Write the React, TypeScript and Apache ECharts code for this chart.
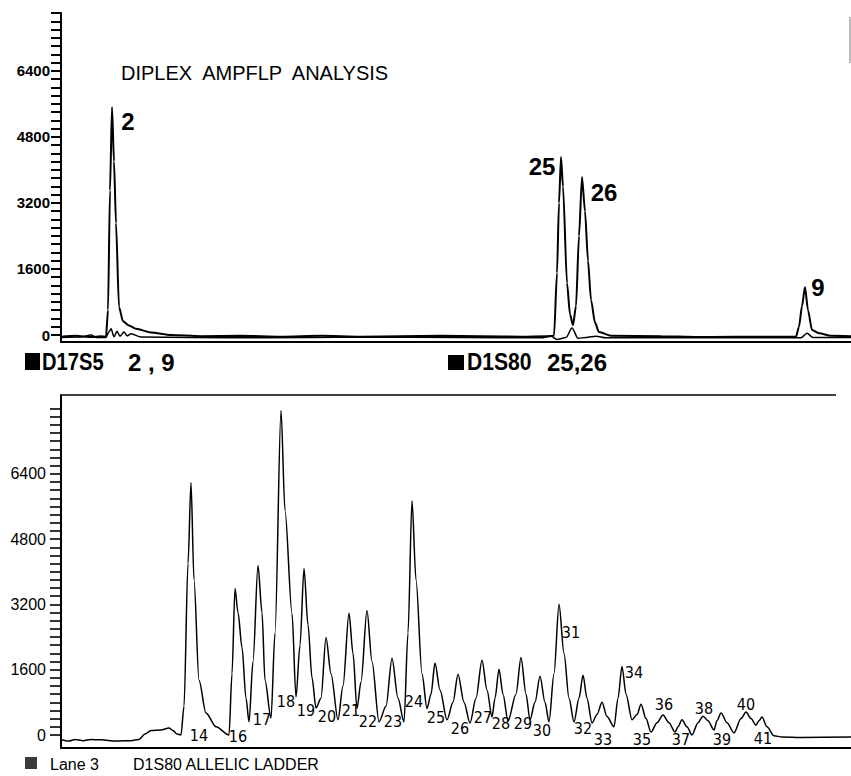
import React, { useEffect, useRef } from "react";
import * as echarts from "echarts";

// ---------- data (x = scan position, y = fluorescence units) ----------
const topTraceMain: [number, number][] = [
  [0, -40], [15, -20], [30, -50], [40, -30], [45, -40], [47, 600], [49, 3500], [51, 5520], [53, 4200], [55, 2710],
  [58, 680], [62, 330], [68, 230], [75, 150], [90, 60], [110, 0], [140, -30], [180, -20], [220, -40], [260, -20],
  [300, -40], [340, -30], [380, -20], [420, -30], [460, -40], [485, -30], [493, -20], [496, 1500], [498, 3200],
  [500, 4310], [502, 3600], [506, 1260], [509, 500], [512, 240], [515, 700], [518, 2400], [521, 3830], [524, 3000],
  [527, 1800], [530, 850], [534, 300], [538, 70], [550, -20], [600, -30], [650, -50], [700, -40], [735, -40],
  [738, 200], [741, 700], [744, 1160], [747, 600], [751, 120], [758, 40], [770, -20], [790, -30],
];

const topTraceSecond: [number, number][] = [
  [0, -60], [20, -50], [30, 0], [35, -60], [45, -60], [48, 80], [50, 150], [53, -40], [56, 90], [59, -30], [63, 70],
  [66, -20], [70, 30], [80, -50], [130, -60], [200, -70], [300, -50], [400, -60], [480, -70], [490, -30], [496, -110],
  [505, -60], [511, 170], [517, -80], [525, -60], [535, -30], [545, -70], [650, -60], [740, -70], [746, 40],
  [752, -60], [790, -60],
];

const topPeakNames = ["2", "25", "26", "9"];
const topPeakLabelX = [67, 481, 543, 757];
const topPeakLabelY = [5180, 4090, 3460, 1160];

const bottomTrace: [number, number][] = [
  [0, -120], [8, -150], [14, -110], [22, -140], [30, -110], [40, -120], [55, -150], [70, -140], [78, -110], [84, 20],
  [90, 110], [100, 120], [108, 170], [112, 110], [116, 20], [120, 0], [123, 700], [127, 4200], [130, 6180], [133, 3800],
  [138, 1340], [145, 540], [155, 200], [168, 0],
  [171, 1500], [174, 3590], [177, 3000], [181, 2150], [185, 900], [188, 320],
  [192, 1800], [197, 4150], [201, 3000], [204, 1340], [210, 410],
  [214, 2500], [220, 7950], [224, 5500], [231, 2980], [235, 930],
  [239, 2200], [243, 4080], [247, 2700], [251, 1400], [255, 660],
  [260, 900], [265, 2390], [270, 1500], [277, 370],
  [282, 1200], [288, 2980], [292, 2000], [296, 650],
  [300, 1300], [306, 3050], [311, 1800], [318, 320],
  [325, 700], [331, 1880], [337, 900], [343, 320],
  [347, 2500], [351, 5740], [355, 3800], [361, 1500], [366, 650],
  [370, 1000], [374, 1760], [379, 1100], [386, 370],
  [392, 800], [397, 1490], [403, 800], [409, 290],
  [415, 900], [421, 1830], [426, 1100], [431, 440],
  [434, 900], [438, 1610], [442, 1000], [447, 340],
  [455, 1000], [460, 1900], [465, 1000], [469, 370],
  [474, 800], [479, 1440], [484, 800], [488, 320],
  [493, 1500], [498, 3200], [503, 2000], [508, 900], [513, 320],
  [518, 900], [522, 1460], [526, 900], [531, 290],
  [536, 500], [541, 800], [546, 450], [553, 200],
  [557, 900], [561, 1680], [565, 1000], [571, 370],
  [576, 500], [580, 750], [585, 400], [590, 70],
  [596, 300], [602, 490], [608, 300], [614, 70],
  [617, 200], [621, 370], [626, 200], [631, 0],
  [637, 300], [642, 460], [647, 350], [653, 120],
  [656, 350], [660, 540], [666, 300], [673, 50],
  [680, 400], [685, 560], [690, 400], [695, 240],
  [698, 350], [701, 440], [706, 200], [713, -20], [721, -50], [740, -60], [790, -50],
];

const alleleNames = [
  "14", "16", "17", "18", "19", "20", "21", "22", "23", "24", "25", "26", "27", "28",
  "29", "30", "31", "32", "33", "34", "35", "36", "37", "38", "39", "40", "41",
];
const alleleLabelX = [
  138, 177, 201, 225, 245, 266, 290, 307, 332, 353, 375, 399, 422, 440,
  462, 481, 510, 522, 542, 573, 581, 603, 620, 643, 661, 685, 702,
];
const alleleLabelY = [
  -25, -50, 370, 810, 610, 440, 610, 340, 320, 810, 420, 150, 420, 290,
  270, 120, 2500, 150, -120, 1520, -120, 735, -120, 660, -120, 735, -75,
];

const yTickLabels = [0, 1600, 3200, 4800, 6400];

const NUMFONT = "'Liberation Sans', Arial, Helvetica, sans-serif";
const CONDENSED = "'DejaVu Sans Condensed', 'Liberation Sans', sans-serif";
const SANS = "'Liberation Sans', Arial, Helvetica, sans-serif";
const INK = "#000";

export default function App() {
  const ref = useRef<HTMLDivElement>(null);

  useEffect(() => {
    if (!ref.current) return;
    const chart = echarts.init(ref.current, undefined, { renderer: "svg" });

    const xCommon = {
      type: "value" as const,
      min: 0,
      max: 790,
      axisLine: { show: true, onZero: false, lineStyle: { color: INK, width: 2 } },
      axisTick: { show: false },
      axisLabel: { show: false },
      splitLine: { show: false },
    };
    const xHidden = {
      type: "value" as const,
      min: 0,
      max: 790,
      show: false,
    };
    const labelFmt = (v: number) => (yTickLabels.indexOf(v) >= 0 ? String(v) : "");

    const tickAxis = (grid: number, max: number, width: number, length: number) => ({
      type: "value",
      gridIndex: grid,
      position: "left",
      min: 0,
      max,
      interval: 200,
      axisLine: { show: false },
      axisTick: { show: true, length, lineStyle: { color: INK, width } },
      axisLabel: { show: false },
      splitLine: { show: false },
    });
    const labelAxis = (grid: number, max: number, margin: number, fontSize: number, fontWeight: string) => ({
      type: "value",
      gridIndex: grid,
      position: "left",
      min: 0,
      max,
      interval: 1600,
      axisLine: { show: false },
      axisTick: { show: false },
      axisLabel: {
        show: true,
        formatter: labelFmt,
        margin,
        fontFamily: NUMFONT,
        fontSize,
        fontWeight,
        color: INK,
      },
      splitLine: { show: false },
    });

    const labelSeries = (xi: number, yi: number, names: string[], xs: number[], ys: number[], label: any) => ({
      type: "scatter",
      xAxisIndex: xi,
      yAxisIndex: yi,
      symbolSize: 0,
      itemStyle: { color: INK },
      silent: true,
      data: names.map((n, i) => ({ name: n, value: [xs[i], ys[i]] })),
      label: { show: true, position: "inside", formatter: "{b}", color: INK, textBorderWidth: 0, opacity: 1, ...label },
    });

    const option: any = {
      animation: false,
      backgroundColor: "#fff",
      title: {
        text: "DIPLEX  AMPFLP  ANALYSIS",
        left: 116,
        top: 58,
        textStyle: { fontFamily: SANS, fontSize: 20, fontWeight: "normal", color: INK },
      },
      grid: [
        // data grids (axis lines reach down to the baseline rule)
        { left: 61, top: 13, width: 790, height: 329 },
        { left: 61, top: 395, width: 790, height: 353 },
        // tick scales (start at zero)
        { left: 61, top: 13, width: 790, height: 322 },
        { left: 61, top: 408.5, width: 790, height: 326.5 },
      ],
      xAxis: [
        { ...xCommon, gridIndex: 0 },
        { ...xCommon, gridIndex: 1 },
        { ...xHidden, gridIndex: 2 },
        { ...xHidden, gridIndex: 3 },
      ],
      yAxis: [
        {
          type: "value",
          gridIndex: 0,
          position: "left",
          min: -170,
          max: 7800,
          axisLine: { show: true, lineStyle: { color: INK, width: 2 } },
          axisTick: { show: false },
          axisLabel: { show: false },
          splitLine: { show: false },
        },
        {
          type: "value",
          gridIndex: 1,
          position: "left",
          min: -320,
          max: 8330,
          axisLine: { show: true, lineStyle: { color: INK, width: 2 } },
          axisTick: { show: false },
          axisLabel: { show: false },
          splitLine: { show: false },
        },
        tickAxis(2, 7800, 2, 10),
        labelAxis(2, 7800, 11, 15, "bold"),
        tickAxis(3, 8000, 1.6, 11),
        labelAxis(3, 8000, 15, 16, "normal"),
      ],
      series: [
        {
          type: "line",
          xAxisIndex: 0,
          yAxisIndex: 0,
          data: topTraceSecond,
          showSymbol: false,
          smooth: 0.3,
          smoothMonotone: "x",
          lineStyle: { color: INK, width: 1.5 },
          silent: true,
        },
        {
          type: "line",
          xAxisIndex: 0,
          yAxisIndex: 0,
          data: topTraceMain,
          showSymbol: false,
          smooth: 0.25,
          smoothMonotone: "x",
          lineStyle: { color: INK, width: 2 },
          silent: true,
        },
        labelSeries(0, 0, topPeakNames, topPeakLabelX, topPeakLabelY, {
          fontFamily: NUMFONT,
          fontWeight: "bold",
          fontSize: 24,
        }),
        {
          type: "line",
          xAxisIndex: 1,
          yAxisIndex: 1,
          data: bottomTrace,
          showSymbol: false,
          smooth: 0.3,
          smoothMonotone: "x",
          lineStyle: { color: INK, width: 1.5 },
          silent: true,
        },
        labelSeries(1, 1, alleleNames, alleleLabelX, alleleLabelY, {
          fontFamily: CONDENSED,
          fontSize: 16,
        }),
      ],
      graphic: [
        { type: "rect", shape: { x: 25, y: 353, width: 15, height: 17 }, style: { fill: INK } },
        {
          type: "text",
          x: 42,
          y: 362,
          scaleX: 0.84,
          style: { text: "D17S5", fontFamily: NUMFONT, fontWeight: "bold", fontSize: 24, fill: INK, verticalAlign: "middle" },
        },
        {
          type: "text",
          x: 128,
          y: 362,
          style: { text: "2 , 9", fontFamily: NUMFONT, fontWeight: "bold", fontSize: 24, fill: INK, verticalAlign: "middle" },
        },
        { type: "rect", shape: { x: 448, y: 355, width: 16, height: 15 }, style: { fill: INK } },
        {
          type: "text",
          x: 467,
          y: 362,
          scaleX: 0.88,
          style: { text: "D1S80", fontFamily: NUMFONT, fontWeight: "bold", fontSize: 24, fill: INK, verticalAlign: "middle" },
        },
        {
          type: "text",
          x: 547,
          y: 362,
          style: { text: "25,26", fontFamily: NUMFONT, fontWeight: "bold", fontSize: 24, fill: INK, verticalAlign: "middle" },
        },
        { type: "rect", shape: { x: 25, y: 757, width: 12, height: 12 }, style: { fill: "#3a3a3a" } },
        {
          type: "text",
          x: 50,
          y: 764,
          style: { text: "Lane 3", fontFamily: SANS, fontSize: 16, fill: INK, verticalAlign: "middle" },
        },
        {
          type: "text",
          x: 133,
          y: 764,
          style: { text: "D1S80 ALLELIC LADDER", fontFamily: SANS, fontSize: 16, fill: INK, verticalAlign: "middle" },
        },
        { type: "line", shape: { x1: 61, y1: 395, x2: 836, y2: 395 }, style: { stroke: INK, lineWidth: 1.6 } },
        { type: "line", shape: { x1: 850, y1: 17, x2: 850, y2: 63 }, style: { stroke: "#777", lineWidth: 1 } },
      ],
    };

    chart.setOption(option);
    return () => chart.dispose();
  }, []);

  return (
    <div
      ref={ref}
      style={{ position: "absolute", left: 0, top: 0, width: 851, height: 776, background: "#fff" }}
    />
  );
}
